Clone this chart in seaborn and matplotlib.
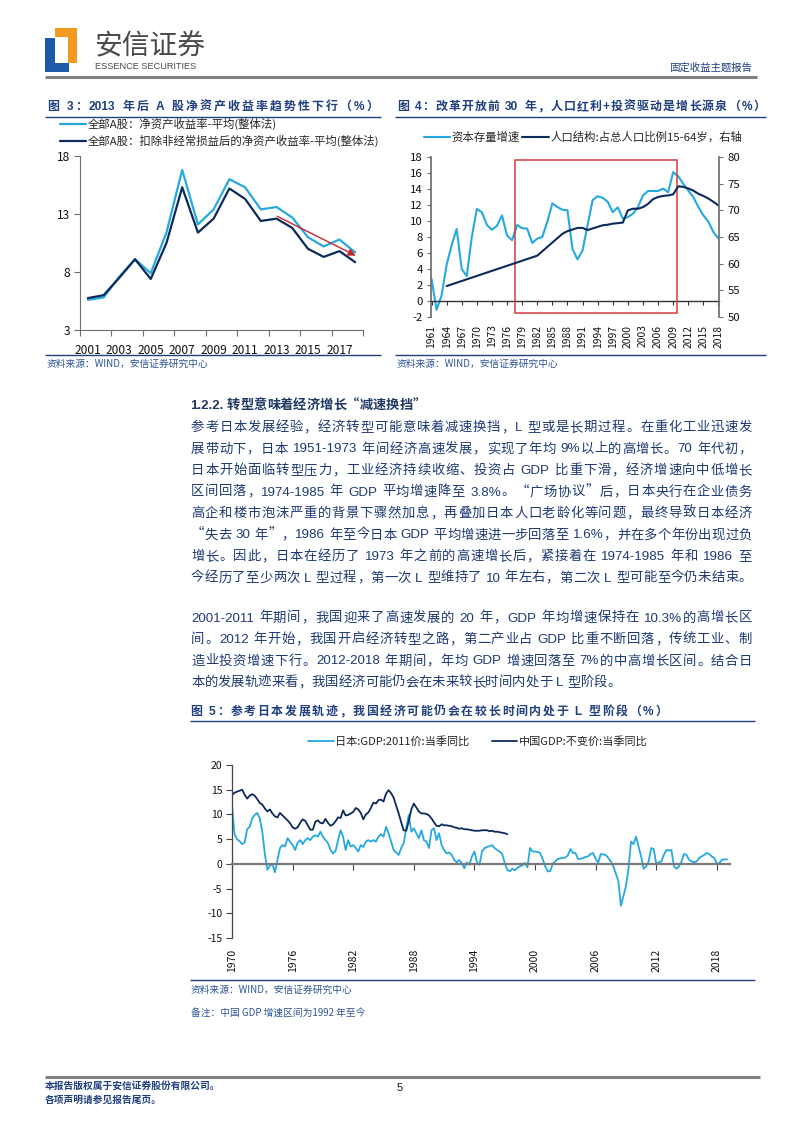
import re
import numpy as np
import matplotlib
matplotlib.use("Agg")
import matplotlib.pyplot as plt
import seaborn as sns
from matplotlib.patches import Rectangle
from matplotlib.lines import Line2D
from matplotlib.font_manager import FontProperties

# ---------------- data ----------------
roe_years = list(range(2001, 2019))
roe_all = [5.6, 5.8, 7.6, 9.1, 7.9, 11.4, 16.8, 12.1, 13.4, 16.0, 15.3, 13.4, 13.6, 12.7, 11.0, 10.2, 10.8, 9.7]
roe_deduct = [5.75, 6.0, 7.5, 9.1, 7.4, 10.5, 15.3, 11.4, 12.6, 15.2, 14.3, 12.4, 12.6, 11.8, 10.0, 9.3, 9.8, 8.85]
roe_labels = ["全部A股：净资产收益率-平均(整体法)", "全部A股：扣除非经常损益后的净资产收益率-平均(整体法)"]

cap_years = list(range(1961, 2019))
cap_growth = [2.8, -1.1, 0.7, 4.5, 7.0, 9.0, 4.0, 3.1, 8.0, 11.5,
              11.1, 9.5, 8.9, 9.4, 10.7, 8.2, 7.6, 9.5, 9.1, 9.05,
              7.25, 7.8, 8.0, 9.9, 12.2, 11.75, 11.4, 11.35, 6.5, 5.2,
              6.3, 9.5, 12.6, 13.1, 12.9, 12.4, 11.1, 11.7, 10.3, 10.5,
              10.9, 11.75, 13.2, 13.75, 13.75, 13.75, 14.05, 13.6, 16.1, 15.6,
              14.65, 13.8, 13.0, 11.75, 10.7, 9.9, 8.6, 7.8]
pop_years = [1964, 1982, 1987, 1988, 1989, 1990, 1991, 1992, 1993, 1994, 1995, 1996, 1997, 1998, 1999,
             2000, 2001, 2002, 2003, 2004, 2005, 2006, 2007, 2008, 2009, 2010, 2011, 2012, 2013,
             2014, 2015, 2016, 2017, 2018]
pop_share = [55.8, 61.5, 65.6, 66.1, 66.4, 66.7, 66.7, 66.3, 66.6, 66.9, 67.2, 67.3, 67.5, 67.6, 67.7,
             70.0, 70.3, 70.3, 70.6, 71.2, 72.1, 72.5, 72.7, 72.8, 73.0, 74.5, 74.4, 74.1, 73.7,
             73.1, 72.7, 72.2, 71.6, 70.9]
fig4_labels = ["资本存量增速", "人口结构:占总人口比例15-64岁，右轴"]

# quarterly, Japan from 1970Q1; China from 1992Q1 (plotted on the same quarter index)
jp_start = 1970
jp_gdp = [11.7, 6.0, 5.0, 4.6, 4.0, 4.3, 7.0, 7.5, 9.2, 9.9,
          10.3, 9.2, 6.5, 2.0, -1.2, -0.4, 0.0, -1.7, 0.8, 3.2,
          3.8, 3.5, 5.2, 4.5, 3.8, 2.8, 4.3, 4.8, 4.0, 4.8,
          5.2, 4.8, 5.5, 5.8, 5.5, 6.5, 5.5, 4.8, 4.2, 2.8,
          2.1, 2.6, 4.8, 6.8, 5.5, 2.8, 4.8, 3.5, 3.8, 3.2,
          2.5, 3.8, 3.4, 4.5, 4.8, 4.5, 4.8, 4.5, 5.5, 6.0,
          5.5, 7.5, 6.2, 4.5, 2.8, 2.3, 1.8, 3.2, 4.2, 7.2,
          9.9, 6.5, 7.2, 6.2, 5.2, 6.8, 4.8, 4.5, 3.2, 6.8,
          7.2, 4.8, 6.2, 3.8, 2.8, 2.1, 2.3, 1.8, 0.8, 0.3,
          0.8, 0.1, -0.9, 0.3, -0.2, 1.5, 2.5, 0.3, -0.2, 2.5,
          3.2, 3.4, 3.6, 3.8, 3.2, 2.8, 2.5, 2.0, 0.2, -1.2,
          -1.5, -1.0, -1.3, -0.8, -0.5, -0.3, 0.2, -0.7, 3.2, 2.5,
          2.5, 2.4, 2.2, 1.0, -0.5, -1.5, -1.5, 0.0, 0.5, 1.0,
          1.1, 1.2, 1.3, 1.7, 3.0, 2.2, 2.2, 1.0, 1.0, 1.2,
          1.4, 1.5, 2.0, 2.2, 1.0, 0.2, 2.0, 1.9, 1.8, 1.2,
          0.5, -0.5, -2.0, -3.5, -8.5, -6.5, -4.5, -1.0, 4.5, 4.0,
          5.5, 3.5, 1.5, -1.0, -0.5, 0.5, 3.2, 3.0, 0.0, 0.3,
          0.5, 1.8, 2.8, 2.7, 2.8, -0.5, -1.0, -0.5, 0.5, 2.0,
          1.8, 0.8, 0.5, 0.3, 0.5, 1.2, 1.5, 1.8, 2.2, 2.0,
          1.5, 1.2, 0.0, 0.2, 0.8, 0.9, 0.9]
cn_gdp = [13.9, 14.4, 14.6, 14.8, 15.0, 14.0, 13.2, 13.8, 14.1, 13.8,
          13.1, 12.3, 12.0, 11.2, 10.6, 11.0, 10.2, 9.6, 9.4, 10.3,
          9.8, 9.3, 8.8, 8.2, 7.4, 7.1, 7.4, 8.3, 9.0, 8.7,
          7.8, 6.9, 6.9, 8.5, 8.8, 8.3, 8.2, 9.1, 8.3, 7.7,
          8.0, 8.6, 9.4, 9.3, 10.8, 9.8, 9.9, 10.2, 10.5, 11.3,
          11.0, 10.3, 9.0, 10.0, 10.4, 11.3, 12.4, 12.2, 12.9, 13.0,
          12.6, 14.2, 14.9, 14.3, 13.4, 11.8, 10.2, 8.4, 6.8, 6.7,
          8.7, 11.0, 12.2, 11.4, 10.6, 10.2, 10.2, 10.1, 9.8, 9.2,
          8.4, 7.7, 7.6, 8.0, 7.8, 7.8, 7.7, 7.6, 7.4, 7.3,
          7.1, 7.2, 7.0, 7.0, 6.9, 6.8, 6.7, 6.7, 6.7, 6.8,
          6.8, 6.8, 6.6, 6.7, 6.5, 6.5, 6.4, 6.3, 6.2, 6.0]
fig5_labels = ["日本:GDP:2011价:当季同比", "中国GDP:不变价:当季同比"]

para1 = [
    "参考日本发展经验，经济转型可能意味着减速换挡，L 型或是长期过程。在重化工业迅速发",
    "展带动下，日本 1951-1973 年间经济高速发展，实现了年均 9%以上的高增长。70 年代初，",
    "日本开始面临转型压力，工业经济持续收缩、投资占 GDP 比重下滑，经济增速向中低增长",
    "区间回落，1974-1985 年 GDP 平均增速降至 3.8%。“广场协议”后，日本央行在企业债务",
    "高企和楼市泡沫严重的背景下骤然加息，再叠加日本人口老龄化等问题，最终导致日本经济",
    "“失去 30 年”，1986 年至今日本 GDP 平均增速进一步回落至 1.6%，并在多个年份出现过负",
    "增长。因此，日本在经历了 1973 年之前的高速增长后，紧接着在 1974-1985 年和 1986 至",
    "今经历了至少两次 L 型过程，第一次 L 型维持了 10 年左右，第二次 L 型可能至今仍未结束。",
]
para2 = [
    "2001-2011 年期间，我国迎来了高速发展的 20 年，GDP 年均增速保持在 10.3%的高增长区",
    "间。2012 年开始，我国开启经济转型之路，第二产业占 GDP 比重不断回落，传统工业、制",
    "造业投资增速下行。2012-2018 年期间，年均 GDP 增速回落至 7%的中高增长区间。结合日",
    "本的发展轨迹来看，我国经济可能仍会在未来较长时间内处于 L 型阶段。",
]

# ---------------- style ----------------
sns.set_theme(style="white")
CJK = ["Noto Sans CJK SC", "DejaVu Sans"]
LAT = ["Liberation Sans", "DejaVu Sans"]
plt.rcParams["font.family"] = CJK
plt.rcParams["axes.unicode_minus"] = False

LIGHT = "#25a9e0"
DARK = "#0d2a5c"
NAVY = "#1f3f7f"
TXT = "#1e3a74"
AXC = "#6e6e6e"

W, H = 800, 1132
fig = plt.figure(figsize=(8, 11.32), dpi=100)
renderer = fig.canvas.get_renderer()


def fx(x):
    return x / W


def fy(y):
    return 1 - y / H


def rect(l, t, r, b):
    return [fx(l), fy(b), (r - l) / W, (b - t) / H]


def hline(x0, x1, y, color, lw):
    fig.add_artist(Line2D([fx(x0), fx(x1)], [fy(y), fy(y)], transform=fig.transFigure,
                          color=color, lw=lw, solid_capstyle="butt"))


def text_line(s, x0, y, size, color, weight="normal", x1=None):
    """draw a line of text, optionally justified to end at x1 (pixel coords, y=baseline)"""
    toks = re.findall(r"[A-Za-z0-9.%\-+]+| |.", s)
    fpc = FontProperties(family=CJK, size=size, weight=weight)
    fpl = FontProperties(family=LAT, size=size, weight=weight)
    sp = (renderer.get_text_width_height_descent("x x", fpl, ismath=False)[0]
          - renderer.get_text_width_height_descent("xx", fpl, ismath=False)[0])
    items = []
    for t in toks:
        if t == " ":
            items.append((t, None, sp))
        else:
            fp = fpl if all(ord(c) < 128 for c in t) else fpc
            items.append((t, fp, renderer.get_text_width_height_descent(t, fp, ismath=False)[0]))
    gap = 0.0
    if x1 is not None and len(items) > 1:
        gap = ((x1 - x0) - sum(w for _, _, w in items)) / (len(items) - 1)
    x = x0
    for t, fp, w in items:
        if fp is not None:
            fig.text(fx(x), fy(y), t, fontproperties=fp, color=color, ha="left", va="baseline")
        x += w + gap


# ---------------- header ----------------
for (l, t, r, b, c) in [(45, 38, 55, 72, "#1f5aa8"), (45, 63, 69, 72, "#1f5aa8"),
                        (55, 28, 77, 37, "#f29a1f"), (68, 28, 77, 63, "#f29a1f")]:
    fig.add_artist(Rectangle((fx(l), fy(b)), (r - l) / W, (b - t) / H, transform=fig.transFigure,
                             color=c, lw=0))
fig.text(fx(94), fy(54), "安信证券", fontsize=20, color="#4a4a4a", ha="left", va="baseline")
fig.text(fx(95), fy(69), "ESSENCE SECURITIES", fontsize=6.6, color="#4a4a4a", ha="left",
         va="baseline", family=LAT)
fig.text(fx(752), fy(71), "固定收益主题报告", fontsize=7.5, color=NAVY, ha="right", va="baseline")
hline(45, 757, 77, "#7f7f7f", 2.2)

# ---------------- figure 3 ----------------
text_line("图 3：2013 年后 A 股净资产收益率趋势性下行（%）", 47, 110, 8.6, NAVY, "bold", x1=378)
hline(45, 381, 117, NAVY, 1.0)

ax3 = fig.add_axes(rect(80, 156, 363, 330))
sns.lineplot(x=roe_years, y=roe_all, ax=ax3, color=LIGHT, lw=1.6, label=roe_labels[0])
sns.lineplot(x=roe_years, y=roe_deduct, ax=ax3, color=DARK, lw=1.6, label=roe_labels[1])
ax3.set_xlim(2000.5, 2018.5)
ax3.set_ylim(3, 18)
ax3.set_yticks([3, 8, 13, 18])
ax3.set_xticks(roe_years[::2])
ax3.set_xticks(np.arange(2000.5, 2019, 2), minor=True)
ax3.tick_params(axis="x", which="major", bottom=False, labelsize=8.6, pad=4, labelcolor="#111111")
ax3.tick_params(axis="x", which="minor", bottom=True, length=4, color=AXC, width=0.8)
ax3.tick_params(axis="y", left=True, length=4, color=AXC, width=0.8, labelsize=8.6, pad=3,
                labelcolor="#111111")
for s in ["top", "right"]:
    ax3.spines[s].set_visible(False)
for s in ["left", "bottom"]:
    ax3.spines[s].set_color(AXC)
    ax3.spines[s].set_linewidth(0.8)
ax3.set_xlabel("")
ax3.set_ylabel("")
ax3.annotate("", xy=(2018.2, 9.3), xytext=(2012.9, 12.9),
             arrowprops=dict(arrowstyle="-|>", color="#c3282e", lw=1.0, mutation_scale=11))
ax3.legend(loc="upper left", bbox_to_anchor=(fx(60), fy(118)), bbox_transform=fig.transFigure,
           frameon=False, fontsize=8.2, handlelength=2.3, handletextpad=0.15, labelspacing=0.42,
           borderpad=0, borderaxespad=0)

hline(45, 381, 355, NAVY, 1.0)
fig.text(fx(47), fy(367), "资料来源：WIND，安信证券研究中心", fontsize=7, color="#2f5597",
         ha="left", va="baseline")

# ---------------- figure 4 ----------------
text_line("图 4：改革开放前 30 年，人口红利+投资驱动是增长源泉（%）", 397, 110, 8.6, NAVY, "bold", x1=765)
hline(395, 766, 117, NAVY, 1.0)

ax4 = fig.add_axes(rect(431, 157, 719, 317))
sns.lineplot(x=cap_years, y=cap_growth, ax=ax4, color=LIGHT, lw=1.5, legend=False)
ax4r = ax4.twinx()
sns.lineplot(x=pop_years, y=pop_share, ax=ax4r, color=DARK, lw=1.5, legend=False)
ax4.set_xlim(1960.9, 2018.1)
ax4.set_ylim(-2, 18)
ax4r.set_ylim(50, 80)
ax4.set_yticks(np.arange(-2, 19, 2))
ax4r.set_yticks(np.arange(50, 81, 5))
ax4.set_xticks(cap_years[::3])
ax4.spines["bottom"].set_position(("data", 0))
ax4.tick_params(axis="x", bottom=True, length=3, color="#333333", width=0.8, labelsize=7.4,
                rotation=90, pad=14, labelcolor="#111111")
ax4.tick_params(axis="y", left=True, length=3, color=AXC, width=0.8, labelsize=8.2, pad=3,
                labelcolor="#111111")
ax4r.tick_params(axis="y", right=True, length=3, color=AXC, width=0.8, labelsize=8.2, pad=3,
                 labelcolor="#111111")
for a in (ax4, ax4r):
    a.spines["top"].set_visible(False)
    a.set_xlabel("")
    a.set_ylabel("")
ax4r.spines["bottom"].set_visible(False)
ax4r.spines["left"].set_visible(False)
ax4.spines["right"].set_visible(False)
ax4.spines["bottom"].set_color("#333333")
ax4.spines["bottom"].set_linewidth(1.0)
ax4.spines["left"].set_color(AXC)
ax4r.spines["right"].set_color(AXC)
ax4.add_patch(Rectangle((1977.6, -1.45), 32.2, 19.05, fill=False, ec="#d23a3c", lw=1.1,
                        clip_on=False, zorder=5))
h4 = [ax4.get_lines()[0], ax4r.get_lines()[0]]
fig.legend(h4, fig4_labels, loc="center", bbox_to_anchor=(fx(583), fy(137)), ncol=2,
           frameon=False, fontsize=8.2, handlelength=2.3, handletextpad=0.15, columnspacing=0.2,
           borderpad=0)

hline(395, 766, 355, NAVY, 1.0)
fig.text(fx(397), fy(367), "资料来源：WIND，安信证券研究中心", fontsize=7, color="#2f5597",
         ha="left", va="baseline")

# ---------------- body text ----------------
text_line("1.2.2. 转型意味着经济增长“减速换挡”", 190, 409, 9.5, "#1f3864", "bold")
y = 431
for i, s in enumerate(para1):
    text_line(s, 191, y, 9.6, TXT, x1=752)
    y += 21.5
y += 18.5
for i, s in enumerate(para2):
    text_line(s, 191, y, 9.6, TXT, x1=752 if i < len(para2) - 1 else None)
    y += 21.5

# ---------------- figure 5 ----------------
text_line("图 5：参考日本发展轨迹，我国经济可能仍会在较长时间内处于 L 型阶段（%）", 190, 715, 8.6, NAVY,
          "bold", x1=667)
hline(190, 755, 721, NAVY, 1.0)

jp_x = jp_start + np.arange(len(jp_gdp)) / 4
cn_x = jp_start + np.arange(len(cn_gdp)) / 4
ax5 = fig.add_axes(rect(232, 765, 730, 938))
sns.lineplot(x=jp_x, y=jp_gdp, ax=ax5, color=LIGHT, lw=1.3, label=fig5_labels[0])
sns.lineplot(x=cn_x, y=cn_gdp, ax=ax5, color=DARK, lw=1.3, label=fig5_labels[1])
ax5.set_xlim(1970, 2019.3)
ax5.set_ylim(-15, 20)
ax5.set_yticks(np.arange(-15, 21, 5))
ax5.set_xticks(np.arange(1970, 2019, 6))
ax5.spines["bottom"].set_position(("data", 0))
ax5.spines["bottom"].set_color("#7a7a7a")
ax5.spines["bottom"].set_linewidth(1.6)
ax5.spines["left"].set_color("#444444")
ax5.spines["left"].set_linewidth(0.9)
for s in ["top", "right"]:
    ax5.spines[s].set_visible(False)
ax5.tick_params(axis="x", bottom=True, length=4, color="#444444", width=0.8, labelsize=7.5,
                rotation=90, pad=57, labelcolor="#111111")
ax5.tick_params(axis="y", left=True, length=4, color="#444444", width=0.8, labelsize=7.5, pad=3,
                labelcolor="#111111")
ax5.set_xlabel("")
ax5.set_ylabel("")
ax5.legend(loc="center", bbox_to_anchor=(fx(478), fy(741)), bbox_transform=fig.transFigure,
           ncol=2, frameon=False, fontsize=8, handlelength=2.3, handletextpad=0.15,
           columnspacing=2.0, borderpad=0)

hline(190, 755, 980, NAVY, 1.0)
fig.text(fx(191), fy(993), "资料来源：WIND，安信证券研究中心", fontsize=7, color="#2f5597",
         ha="left", va="baseline")
fig.text(fx(191), fy(1016), "备注：中国 GDP 增速区间为1992 年至今", fontsize=7, color="#2f5597",
         ha="left", va="baseline")

# ---------------- footer ----------------
hline(45, 760, 1077, "#7f7f7f", 2.2)
fig.text(fx(45), fy(1089), "本报告版权属于安信证券股份有限公司。", fontsize=7, color=NAVY,
         weight="bold", ha="left", va="baseline")
fig.text(fx(45), fy(1103), "各项声明请参见报告尾页。", fontsize=7, color=NAVY, weight="bold",
         ha="left", va="baseline")
fig.text(fx(400), fy(1091), "5", fontsize=8, color="#111111", ha="center", va="baseline", family=LAT)

fig.savefig("out.png", dpi=100)
